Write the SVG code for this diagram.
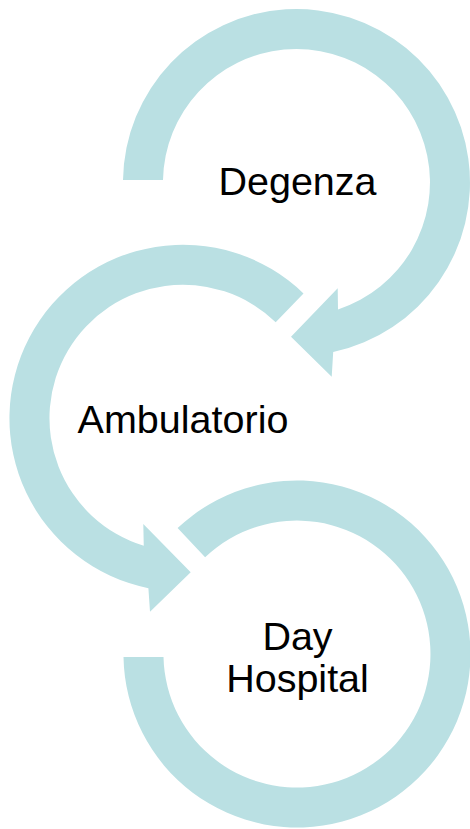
<svg xmlns="http://www.w3.org/2000/svg" width="470" height="829" viewBox="0 0 470 829">
  <style>
    .arc { fill: #BAE0E3; stroke: none; }
    .lbl { font-family: "Liberation Sans", Arial, sans-serif; font-size: 39.5px; fill: #000000; text-anchor: middle; }
  </style>
  <rect x="0" y="0" width="470" height="829" fill="#FFFFFF"/>
  <g id="connectors">
    <path id="arrow-degenza" class="arc" d="M 123.0,180 A 173.5 173.5 0 1 1 333.2,352.1 L 331.7,376.7 L 291,336.7 L 337.7,288.3 L 338,309.4 A 133.5 133.5 0 1 0 163.0,180 Z"/>
    <path id="arrow-ambulatorio" class="arc" d="M 303.5,293.45 A 173.5 173.5 0 1 0 148.4,588.25 L 150,611.7 L 190.7,572.3 L 143.3,524 L 143.75,545.85 A 133.5 133.5 0 1 1 275.7,322.2 Z"/>
    <path id="arc-dayhospital" class="arc" d="M 123.5,657 A 173.5 173.5 0 1 0 177.6,528.1 L 205.1,557.2 A 133.5 133.5 0 1 1 163.5,657 Z"/>
  </g>
  <g id="node-degenza">
    <text class="lbl" x="297.5" y="195">Degenza</text>
  </g>
  <g id="node-ambulatorio">
    <text class="lbl" x="183" y="433">Ambulatorio</text>
  </g>
  <g id="node-dayhospital">
    <text class="lbl" x="297.5" y="650">Day</text>
    <text class="lbl" x="297.5" y="692">Hospital</text>
  </g>
</svg>
